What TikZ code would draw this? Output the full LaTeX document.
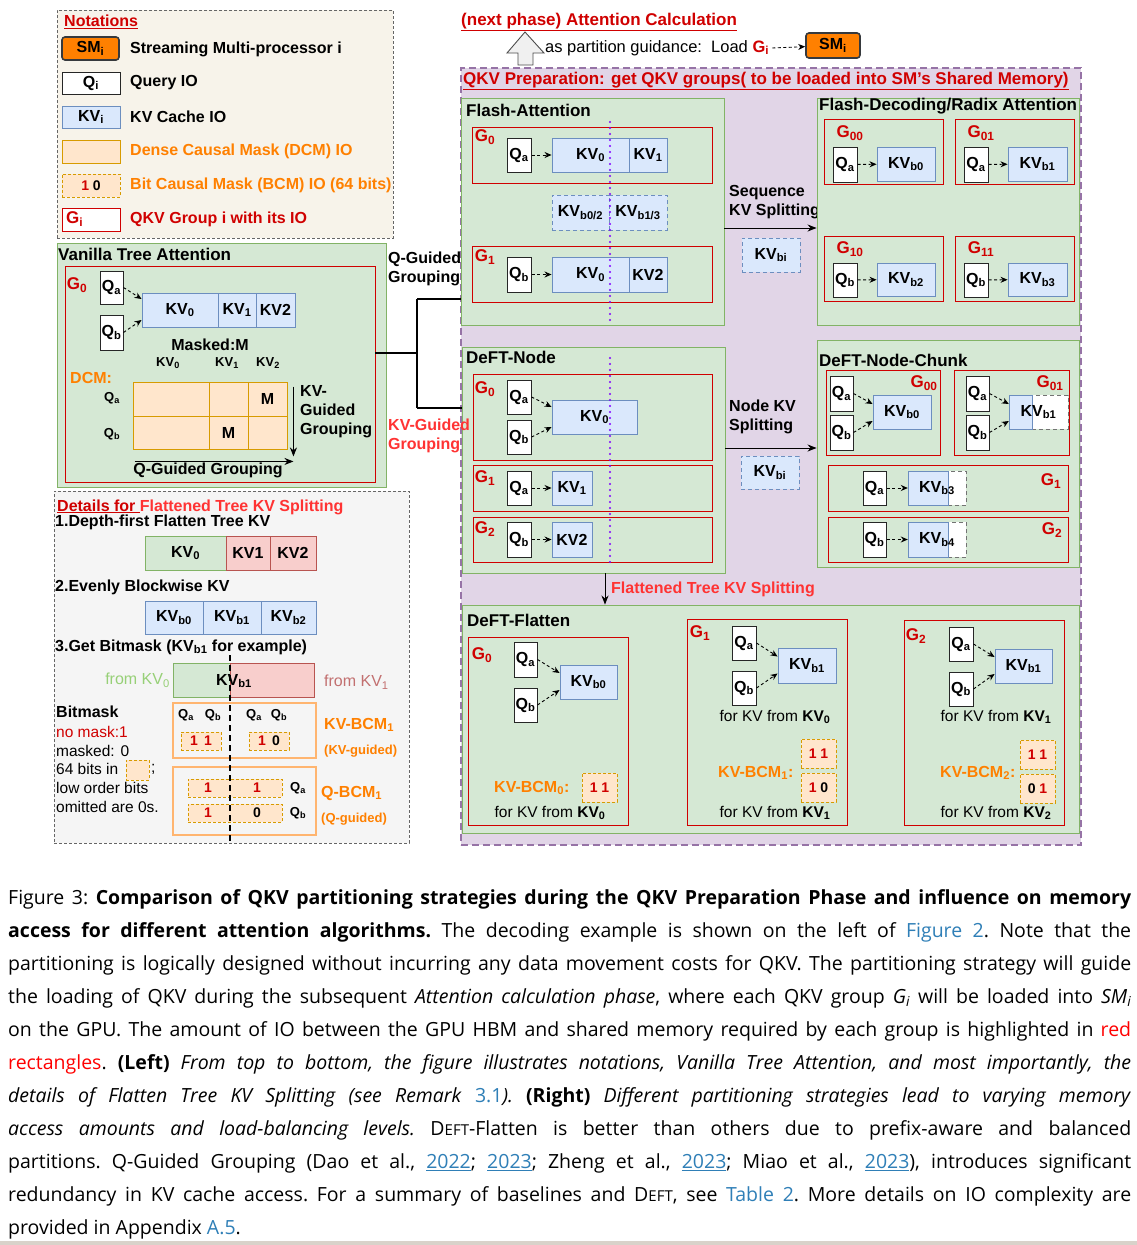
\documentclass[tikz,border=0pt]{standalone}
\usepackage{fontspec}
\setmainfont{Liberation Sans}
\newfontfamily\capfont{Open Sans}
\usepackage{xcolor}
\usepackage{tikz}
\usetikzlibrary{arrows.meta, positioning, fit}
\definecolor{GrpRed}{HTML}{D00000}
\definecolor{BrightRed}{HTML}{FF3333}
\definecolor{MaskOrange}{HTML}{FF8000}
\definecolor{SMLine}{HTML}{36393D}
\definecolor{KVFill}{HTML}{DAE8FC}
\definecolor{KVLine}{HTML}{6C8EBF}
\definecolor{PanelFill}{HTML}{D5E8D4}
\definecolor{PanelLine}{HTML}{82B366}
\definecolor{PrepFill}{HTML}{E1D5E7}
\definecolor{PrepLine}{HTML}{9673A6}
\definecolor{MaskFill}{HTML}{FFE6CC}
\definecolor{MaskLine}{HTML}{D79B00}
\definecolor{PinkFill}{HTML}{F8CECC}
\definecolor{PinkLine}{HTML}{B85450}
\definecolor{NoteFill}{HTML}{F7F3EA}
\definecolor{DetailFill}{HTML}{F5F5F5}
\definecolor{DetailLine}{HTML}{666666}
\definecolor{DotViolet}{HTML}{7F00FF}
\definecolor{BCMLine}{HTML}{FFB570}
\definecolor{FromGreen}{HTML}{97D077}
\definecolor{FromRed}{HTML}{C27070}
\definecolor{LinkBlue}{HTML}{2F7FB7}
\definecolor{ArrowGrey}{HTML}{F0F0F0}
\definecolor{BarGrey}{HTML}{D9D2CA}

\newcommand{\sbs}[1]{\textsubscript{#1}}
\newcommand{\regfont}{\mdseries\fontsize{15.5}{18}\selectfont}
\newcommand{\smallbold}{\bfseries\fontsize{13}{15}\selectfont}
\newcommand{\bitfont}{\bfseries\fontsize{14}{16}\selectfont}
\newcommand{\dft}{D{\fontsize{15}{33}\selectfont EFT}}

\tikzset{
  tx/.style={label={center:#1}},
  bittx/.style={label={[font=\bitfont]center:#1}},
  panel/.style={draw=PanelLine, fill=PanelFill, line width=0.9pt},
  grp/.style={draw=GrpRed, line width=0.9pt},
  qbox/.style={draw=black!85, fill=white, line width=1pt},
  kvbox/.style={draw=KVLine, fill=KVFill, line width=0.9pt},
  kvdash/.style={kvbox, dash pattern=on 4pt off 3pt},
  kvtail/.style={draw=black!55, fill=white, dash pattern=on 4pt off 3pt, line width=0.9pt},
  pinkbox/.style={draw=PinkLine, fill=PinkFill, line width=0.9pt},
  greenbox/.style={draw=PanelLine, fill=PanelFill, line width=0.9pt},
  dcmcell/.style={draw=MaskLine, fill=MaskFill, line width=0.9pt},
  bitbox/.style={draw=MaskLine, fill=MaskFill, dash pattern=on 3pt off 2pt, line width=0.9pt},
  smbox/.style={draw=SMLine, fill=MaskOrange, line width=1.6pt, rounded corners=3pt},
  head/.style={anchor=west},
  ptitle/.style={anchor=west, font=\bfseries\fontsize{17}{19}\selectfont},
  glbl/.style={text=GrpRed, font=\bfseries\fontsize{17}{19}\selectfont},
  qarrow/.style={-{Stealth[length=7pt, width=6pt]}, dash pattern=on 3pt off 2.5pt, line width=0.9pt},
  splitarr/.style={-{Stealth[length=9pt, width=7pt]}, line width=1pt},
  bracket/.style={line width=2.2pt},
  vdots/.style={DotViolet, line width=2.4pt, line cap=round, dash pattern=on 0pt off 6pt}
}

\begin{document}
\begin{tikzpicture}[x=1pt, y=-1pt, every node/.style={inner sep=0pt, font=\bfseries\fontsize{16}{19}\selectfont}]
\useasboundingbox (0,0) rectangle (1137,1245);
\fill[white] (0,0) rectangle (1137,1245);

% notations
\node[fit={(57,10) (393,238)}, draw=DetailLine, fill=NoteFill, dash pattern=on 3pt off 2pt, line width=0.9pt] (notes) {};
\node[head, text=GrpRed] (notes-title) at (64,22) {\underline{Notations}};
\node[smbox, fit={(62,37) (119,60)}, tx={SM\sbs{i}}] (n-sm) {};
\node[head] (n-sm-txt) at (130,49) {Streaming Multi-processor i};
\node[qbox, fit={(62,72) (120,94)}, tx={Q\sbs{i}}] (n-q) {};
\node[head] (n-q-txt) at (130,83) {Query IO};
\node[kvbox, fit={(62,106) (120,128)}, tx={KV\sbs{i}}] (n-kv) {};
\node[head] (n-kv-txt) at (130,117) {KV Cache IO};
\node[dcmcell, fit={(62,140) (120,163)}] (n-dcm) {};
\node[head, text=MaskOrange] (n-dcm-txt) at (130,151) {Dense Causal Mask (DCM) IO};
\node[bitbox, fit={(62,174) (120,197)}, bittx={\textcolor{GrpRed}{1} 0}] (n-bcm) {};
\node[head, text=MaskOrange] (n-bcm-txt) at (130,185) {Bit Causal Mask (BCM) IO (64 bits)};
\node[grp, fill=white, fit={(62,208) (120,231)}] (n-grp) {};
\node[glbl, anchor=west] (n-grp-lbl) at (66,219) {G\sbs{i}};
\node[head, text=GrpRed] (n-grp-txt) at (130,219) {QKV Group i with its IO};

% next phase header
\node[head, text=GrpRed, font=\bfseries\fontsize{17}{19}\selectfont] (next-phase) at (461,22) {\underline{(next phase) Attention Calculation}};
\draw[fill=ArrowGrey, draw=black!70, line width=0.9pt] (525,32) -- (544,53) -- (533,53) -- (533,65) -- (518,65) -- (518,53) -- (507,53) -- cycle;
\node[head, font=\mdseries\fontsize{16.5}{19}\selectfont] (guide) at (545,48) {as partition guidance:\ \ Load \textcolor{GrpRed}{\textbf{G\sbs{i}}}};
\node[smbox, fit={(806,33) (860,58)}, tx={SM\sbs{i}}] (top-sm) {};
\draw[qarrow] ([xshift=3pt]guide.east) -- (top-sm);

% QKV preparation
\node[fit={(461,68) (1081,845)}, draw=PrepLine, fill=PrepFill, dash pattern=on 7pt off 4pt, line width=1.6pt] (prep) {};
\node[head, text=GrpRed, font=\bfseries\fontsize{17}{19}\selectfont] (prep-title) at (463,81) {\underline{QKV Preparation: get QKV groups( to be loaded into SM's Shared Memory)}};

% Flash-Attention
\node[panel, fit={(461,98) (724,325)}] (fa) {};
\node[ptitle] (fa-title) at (466,110) {Flash-Attention};
\node[grp, fit={(472,127) (712,183)}] (fa-g0) {};
\node[glbl] at (485,137) {G\sbs{0}};
\node[qbox, fit={(507,138) (531,172)}, tx={Q\sbs{a}}] (fa-g0-qa) {};
\node[kvbox, fit={(552,138) (629,172)}, tx={KV\sbs{0}}] (fa-g0-kv0) {};
\node[kvbox, fit={(629,138) (667,172)}, tx={KV\sbs{1}}] (fa-g0-kv1) {};
\draw[qarrow] (fa-g0-qa) -- (fa-g0-kv0);
\node[kvdash, fit={(552,195) (609,230)}, tx={KV\sbs{b0/2}}] (fa-kvb02) {};
\node[kvdash, fit={(609,195) (667,230)}, tx={KV\sbs{b1/3}}] (fa-kvb13) {};
\node[grp, fit={(472,246) (712,302)}] (fa-g1) {};
\node[glbl] at (485,257) {G\sbs{1}};
\node[qbox, fit={(507,257) (531,292)}, tx={Q\sbs{b}}] (fa-g1-qb) {};
\node[kvbox, fit={(552,257) (629,292)}, tx={KV\sbs{0}}] (fa-g1-kv0) {};
\node[kvbox, fit={(629,257) (667,292)}, tx={KV2}] (fa-g1-kv2) {};
\draw[qarrow] (fa-g1-qb) -- (fa-g1-kv0);
\draw[vdots] (610,122) -- (610,323);

\node[head, align=left] (seq-txt) at (729,202) {Sequence\\KV Splitting};
\node[kvdash, fit={(742,238) (800,272)}, tx={KV\sbs{bi}}] (seq-kvbi) {};

% Flash-Decoding / Radix
\node[panel, fit={(817,98) (1079,325)}] (fd) {};
\node[ptitle] (fd-title) at (819,106) {Flash-Decoding/Radix Attention};
\node[grp, fit={(824,119) (943,184)}] (fd-g00) {};
\node[glbl] at (850,133) {G\sbs{00}};
\node[qbox, fit={(833,147) (857,182)}, tx={Q\sbs{a}}] (fd-g00-qa) {};
\node[kvbox, fit={(877,147) (935,181)}, tx={KV\sbs{b0}}] (fd-g00-kv) {};
\draw[qarrow] (fd-g00-qa) -- (fd-g00-kv);
\node[grp, fit={(955,119) (1074,184)}] (fd-g01) {};
\node[glbl] at (981,133) {G\sbs{01}};
\node[qbox, fit={(964,147) (988,182)}, tx={Q\sbs{a}}] (fd-g01-qa) {};
\node[kvbox, fit={(1008,147) (1067,181)}, tx={KV\sbs{b1}}] (fd-g01-kv) {};
\draw[qarrow] (fd-g01-qa) -- (fd-g01-kv);
\node[grp, fit={(824,236) (943,301)}] (fd-g10) {};
\node[glbl] at (850,249) {G\sbs{10}};
\node[qbox, fit={(833,263) (857,297)}, tx={Q\sbs{b}}] (fd-g10-qb) {};
\node[kvbox, fit={(877,263) (935,296)}, tx={KV\sbs{b2}}] (fd-g10-kv) {};
\draw[qarrow] (fd-g10-qb) -- (fd-g10-kv);
\node[grp, fit={(955,236) (1074,301)}] (fd-g11) {};
\node[glbl] at (981,249) {G\sbs{11}};
\node[qbox, fit={(964,263) (988,297)}, tx={Q\sbs{b}}] (fd-g11-qb) {};
\node[kvbox, fit={(1008,263) (1067,296)}, tx={KV\sbs{b3}}] (fd-g11-kv) {};
\draw[qarrow] (fd-g11-qb) -- (fd-g11-kv);
\draw[splitarr] ([yshift=-16.5pt]fa.east) -- ([yshift=-16.5pt]fa.east -| fd.west);

% Vanilla Tree Attention
\node[panel, fit={(57,243) (386,487)}] (va) {};
\node[ptitle] (va-title) at (58,254) {Vanilla Tree Attention};
\node[grp, fit={(65,266) (375,482)}] (va-g0) {};
\node[glbl] at (77,285) {G\sbs{0}};
\node[qbox, fit={(100,271) (123,304)}, tx={Q\sbs{a}}] (va-qa) {};
\node[qbox, fit={(100,315) (123,350)}, tx={Q\sbs{b}}] (va-qb) {};
\node[kvbox, fit={(142,293) (218,327)}, tx={KV\sbs{0}}] (va-kv0) {};
\node[kvbox, fit={(218,293) (256,327)}, tx={KV\sbs{1}}] (va-kv1) {};
\node[kvbox, fit={(256,293) (295,327)}, tx={KV2}] (va-kv2) {};
\draw[qarrow] (va-qa.east) -- ([yshift=11pt]va-kv0.west);
\draw[qarrow] (va-qb.east) -- ([yshift=-10pt]va-kv0.west);
\node (va-masked) at (210,345) {Masked:M};
\node[font=\smallbold] (va-h0) at (168,363) {KV\sbs{0}};
\node[font=\smallbold] (va-h1) at (227,363) {KV\sbs{1}};
\node[font=\smallbold] (va-h2) at (268,363) {KV\sbs{2}};
\node[head, text=MaskOrange] (va-dcm) at (70,378) {DCM:};
\node[font=\smallbold] (va-ra) at (112,398) {Q\sbs{a}};
\node[font=\smallbold] (va-rb) at (112,434) {Q\sbs{b}};
\node[dcmcell, fit={(133,382) (209,416)}] (dcm-a0) {};
\node[dcmcell, fit={(209,382) (248,416)}] (dcm-a1) {};
\node[dcmcell, fit={(248,382) (287,416)}, tx=M] (dcm-a2) {};
\node[dcmcell, fit={(133,416) (209,449)}] (dcm-b0) {};
\node[dcmcell, fit={(209,416) (248,449)}, tx=M] (dcm-b1) {};
\node[dcmcell, fit={(248,416) (287,449)}] (dcm-b2) {};
\draw[splitarr] ([shift={(6pt,-5pt)}]dcm-a2.north east) -- ([shift={(6pt,-7pt)}]dcm-b2.south east);
\node[head, align=left] (va-kvg) at (300,412) {KV-\\Guided\\Grouping};
\draw[splitarr] ([shift={(2pt,-12pt)}]dcm-b0.south west) -- ([shift={(6pt,-12pt)}]dcm-b2.south east);
\node (va-qg) at (208,470) {Q-Guided Grouping};

% grouping bracket
\coordinate (br-top) at (417,299);
\coordinate (br-bot) at (417,408);
\draw[bracket] ([yshift=21pt]va-g0.east) -- ([yshift=21pt]va-g0.east -| br-top);
\draw[bracket] (br-top) -- (br-bot);
\draw[bracket] (br-top) -- (br-top -| fa.west);

% DeFT-Node
\node[panel, fit={(462,347) (725,573)}] (dn) {};
\draw[bracket] (br-bot) -- (br-bot -| dn.west);
\node[head, align=left] (qg-txt) at (388,269) {Q-Guided\\Grouping};
\node[head, align=left, text=BrightRed] (kvg-txt) at (388,436) {KV-Guided\\Grouping};
\node[ptitle] (dn-title) at (466,357) {DeFT-Node};
\node[grp, fit={(473,374) (712,460)}] (dn-g0) {};
\node[glbl] at (485,389) {G\sbs{0}};
\node[qbox, fit={(507,380) (531,414)}, tx={Q\sbs{a}}] (dn-g0-qa) {};
\node[qbox, fit={(507,420) (531,454)}, tx={Q\sbs{b}}] (dn-g0-qb) {};
\node[kvbox, fit={(552,400) (637,434)}, tx={KV\sbs{0}}] (dn-g0-kv0) {};
\draw[qarrow] (dn-g0-qa.east) -- ([yshift=10pt]dn-g0-kv0.west);
\draw[qarrow] (dn-g0-qb.east) -- ([yshift=-10pt]dn-g0-kv0.west);
\node[grp, fit={(473,465) (712,511)}] (dn-g1) {};
\node[glbl] at (485,478) {G\sbs{1}};
\node[qbox, fit={(507,471) (531,505)}, tx={Q\sbs{a}}] (dn-g1-qa) {};
\node[kvbox, fit={(552,471) (592,505)}, tx={KV\sbs{1}}] (dn-g1-kv1) {};
\draw[qarrow] (dn-g1-qa) -- (dn-g1-kv1);
\node[grp, fit={(473,517) (712,562)}] (dn-g2) {};
\node[glbl] at (485,529) {G\sbs{2}};
\node[qbox, fit={(507,522) (531,557)}, tx={Q\sbs{b}}] (dn-g2-qb) {};
\node[kvbox, fit={(552,522) (592,557)}, tx={KV2}] (dn-g2-kv2) {};
\draw[qarrow] (dn-g2-qb) -- (dn-g2-kv2);
\draw[vdots] (610,358) -- (610,563);

\node[head, align=left] (node-txt) at (729,417) {Node KV\\Splitting};
\node[kvdash, fit={(741,456) (799,489)}, tx={KV\sbs{bi}}] (node-kvbi) {};
\node[head, text=BrightRed] (flat-txt) at (611,589) {Flattened Tree KV Splitting};

% DeFT-Node-Chunk
\node[panel, fit={(817,340) (1079,567)}] (dnc) {};
\draw[splitarr] ([yshift=12pt]dn.east) -- ([yshift=12pt]dn.east -| dnc.west);
\node[ptitle] (dnc-title) at (819,360) {DeFT-Node-Chunk};
\node[grp, fit={(826,370) (940,455)}] (dnc-g00) {};
\node[glbl] at (924,383) {G\sbs{00}};
\node[qbox, fit={(830,376) (853,411)}, tx={Q\sbs{a}}] (dnc-g00-qa) {};
\node[qbox, fit={(830,415) (853,450)}, tx={Q\sbs{b}}] (dnc-g00-qb) {};
\node[kvbox, fit={(873,395) (931,429)}, tx={KV\sbs{b0}}] (dnc-g00-kv) {};
\draw[qarrow] (dnc-g00-qa.east) -- ([yshift=8pt]dnc-g00-kv.west);
\draw[qarrow] (dnc-g00-qb.east) -- ([yshift=-9pt]dnc-g00-kv.west);
\node[grp, fit={(954,370) (1069,455)}] (dnc-g01) {};
\node[glbl] at (1050,383) {G\sbs{01}};
\node[qbox, fit={(966,376) (989,411)}, tx={Q\sbs{a}}] (dnc-g01-qa) {};
\node[qbox, fit={(966,415) (989,450)}, tx={Q\sbs{b}}] (dnc-g01-qb) {};
\node[kvtail, fit={(1032,395) (1068,429)}] (dnc-g01-tail) {};
\node[kvbox, fit={(1009,395) (1032,429)}] (dnc-g01-head) {};
\node[fit={(1009,395) (1068,429)}, tx={KV\sbs{b1}}] (dnc-g01-kv) {};
\draw[qarrow] (dnc-g01-qa.east) -- ([yshift=8pt]dnc-g01-kv.west);
\draw[qarrow] (dnc-g01-qb.east) -- ([yshift=-9pt]dnc-g01-kv.west);
\node[grp, fit={(828,465) (1068,511)}] (dnc-g1) {};
\node[glbl] at (1051,481) {G\sbs{1}};
\node[qbox, fit={(863,471) (886,505)}, tx={Q\sbs{a}}] (dnc-g1-qa) {};
\node[kvtail, fit={(948,471) (966,505)}] (dnc-g1-tail) {};
\node[kvbox, fit={(908,471) (948,505)}] (dnc-g1-head) {};
\node[fit={(908,471) (966,505)}, tx={KV\sbs{b3}}] (dnc-g1-kv) {};
\draw[qarrow] (dnc-g1-qa) -- (dnc-g1-kv);
\node[grp, fit={(828,517) (1068,562)}] (dnc-g2) {};
\node[glbl] at (1052,530) {G\sbs{2}};
\node[qbox, fit={(863,522) (886,557)}, tx={Q\sbs{b}}] (dnc-g2-qb) {};
\node[kvtail, fit={(948,522) (966,557)}] (dnc-g2-tail) {};
\node[kvbox, fit={(908,522) (948,557)}] (dnc-g2-head) {};
\node[fit={(908,522) (966,557)}, tx={KV\sbs{b4}}] (dnc-g2-kv) {};
\draw[qarrow] (dnc-g2-qb) -- (dnc-g2-kv);

% DeFT-Flatten
\node[panel, fit={(462,605) (1079,833)}] (df) {};
\draw[splitarr] ([xshift=11.5pt]dn.south) -- ([xshift=11.5pt]dn.south |- df.north);
\node[ptitle] (df-title) at (467,620) {DeFT-Flatten};
\node[grp, fit={(468,637) (628,825)}] (df-g0) {};
\node[glbl] at (482,655) {G\sbs{0}};
\node[qbox, fit={(514,642) (537,677)}, tx={Q\sbs{a}}] (df-g0-qa) {};
\node[qbox, fit={(514,688) (537,722)}, tx={Q\sbs{b}}] (df-g0-qb) {};
\node[kvbox, fit={(560,665) (617,699)}, tx={KV\sbs{b0}}] (df-g0-kv) {};
\draw[qarrow] (df-g0-qa.east) -- ([yshift=9pt]df-g0-kv.west);
\draw[qarrow] (df-g0-qb.east) -- ([yshift=-8pt]df-g0-kv.west);
\node[head, text=MaskOrange] (df-g0-bcm-txt) at (494,788) {KV-BCM\sbs{0}:};
\node[bitbox, fit={(582,773) (617,802)}, bittx={\textcolor{GrpRed}{1 1}}] (df-g0-bcm) {};
\node[font=\regfont] (df-g0-from) at (550,813) {for KV from \textbf{KV\sbs{0}}};

\node[grp, fit={(687,619) (847,825)}] (df-g1) {};
\node[glbl] at (700,633) {G\sbs{1}};
\node[qbox, fit={(732,626) (756,660)}, tx={Q\sbs{a}}] (df-g1-qa) {};
\node[qbox, fit={(732,671) (756,705)}, tx={Q\sbs{b}}] (df-g1-qb) {};
\node[kvbox, fit={(778,648) (836,683)}, tx={KV\sbs{b1}}] (df-g1-kv) {};
\draw[qarrow] (df-g1-qa.east) -- ([yshift=9pt]df-g1-kv.west);
\draw[qarrow] (df-g1-qb.east) -- ([yshift=-8pt]df-g1-kv.west);
\node[font=\regfont] (df-g1-from0) at (775,717) {for KV from \textbf{KV\sbs{0}}};
\node[bitbox, fit={(801,739) (836,768)}, bittx={\textcolor{GrpRed}{1 1}}] (df-g1-bcm0) {};
\node[bitbox, fit={(801,773) (836,802)}, bittx={\textcolor{GrpRed}{1} 0}] (df-g1-bcm1) {};
\node[head, text=MaskOrange] (df-g1-bcm-txt) at (718,773) {KV-BCM\sbs{1}:};
\node[font=\regfont] (df-g1-from1) at (775,813) {for KV from \textbf{KV\sbs{1}}};

\node[grp, fit={(904,620) (1064,825)}] (df-g2) {};
\node[glbl] at (916,636) {G\sbs{2}};
\node[qbox, fit={(949,627) (973,661)}, tx={Q\sbs{a}}] (df-g2-qa) {};
\node[qbox, fit={(949,672) (973,706)}, tx={Q\sbs{b}}] (df-g2-qb) {};
\node[kvbox, fit={(995,649) (1052,683)}, tx={KV\sbs{b1}}] (df-g2-kv) {};
\draw[qarrow] (df-g2-qa.east) -- ([yshift=9pt]df-g2-kv.west);
\draw[qarrow] (df-g2-qb.east) -- ([yshift=-8pt]df-g2-kv.west);
\node[font=\regfont] (df-g2-from1) at (996,717) {for KV from \textbf{KV\sbs{1}}};
\node[bitbox, fit={(1020,740) (1055,769)}, bittx={\textcolor{GrpRed}{1 1}}] (df-g2-bcm0) {};
\node[bitbox, fit={(1020,774) (1055,803)}, bittx={0 \textcolor{GrpRed}{1}}] (df-g2-bcm1) {};
\node[head, text=MaskOrange] (df-g2-bcm-txt) at (940,773) {KV-BCM\sbs{2}:};
\node[font=\regfont] (df-g2-from2) at (996,813) {for KV from \textbf{KV\sbs{2}}};

% details for flattened tree KV splitting
\node[fit={(54,491) (409,843)}, draw=DetailLine, fill=DetailFill, dash pattern=on 3pt off 2pt, line width=0.9pt] (det) {};
\node[head] (det-title) at (57,507) {\textcolor{GrpRed}{\underline{Details for }}\textcolor{BrightRed}{Flattened Tree KV Splitting}};
\node[head] (det-s1) at (55,522) {1.Depth-first Flatten Tree KV};
\node[greenbox, fit={(145,536) (226,570)}, tx={KV\sbs{0}}] (det-kv0) {};
\node[pinkbox, fit={(226,536) (270,570)}, tx={KV1}] (det-kv1) {};
\node[pinkbox, fit={(270,536) (316,570)}, tx={KV2}] (det-kv2) {};
\node[head] (det-s2) at (55,587) {2.Evenly Blockwise KV};
\node[kvbox, fit={(145,601) (203,634)}, tx={KV\sbs{b0}}] (det-kvb0) {};
\node[kvbox, fit={(203,601) (261,634)}, tx={KV\sbs{b1}}] (det-kvb1) {};
\node[kvbox, fit={(261,601) (316,634)}, tx={KV\sbs{b2}}] (det-kvb2) {};
\node[head] (det-s3) at (55,647) {3.Get Bitmask (KV\sbs{b1} for example)};
\node[greenbox, fit={(173,663) (230,697)}] (det-from0) {};
\node[pinkbox, fit={(230,663) (314,697)}] (det-from1) {};
\node (det-kvb1-txt) at (234,681) {KV\sbs{b1}};
\node[anchor=east, font=\mdseries\fontsize{16}{19}\selectfont, text=FromGreen] (det-from0-txt) at (170,680) {from KV\sbs{0}};
\node[anchor=west, font=\mdseries\fontsize{16}{19}\selectfont, text=FromRed] (det-from1-txt) at (324,682) {from KV\sbs{1}};

\node[head] (det-bitmask) at (56,712) {Bitmask};
\node[head, font=\regfont, text=GrpRed] (det-nomask) at (56,732) {no mask:1};
\node[head, font=\regfont] (det-masked) at (56,751) {masked: 0};
\node[head, font=\regfont] (det-64) at (56,769) {64 bits in};
\node[bitbox, fit={(126,760) (149,780)}] (det-64box) {};
\node[head, font=\regfont] (det-semi) at (151,769) {;};
\node[head, font=\regfont] (det-low) at (56,788) {low order bits};
\node[head, font=\regfont] (det-omit) at (56,807) {omitted are 0s.};

\node[fit={(173,703) (316,758)}, draw=BCMLine, line width=1.2pt] (kvbcm) {};
\node[font=\smallbold] (kvbcm-qa0) at (186,715) {Q\sbs{a}};
\node[font=\smallbold] (kvbcm-qb0) at (213,715) {Q\sbs{b}};
\node[font=\smallbold] (kvbcm-qa1) at (254,715) {Q\sbs{a}};
\node[font=\smallbold] (kvbcm-qb1) at (279,715) {Q\sbs{b}};
\node[bitbox, fit={(181,732) (221,750)}, bittx={\textcolor{GrpRed}{1\ \,1}}] (kvbcm-bits0) {};
\node[bitbox, fit={(249,732) (289,750)}, bittx={\textcolor{GrpRed}{1}\ \,0}] (kvbcm-bits1) {};
\node[head, text=MaskOrange] (kvbcm-txt) at (324,725) {KV-BCM\sbs{1}};
\node[head, text=MaskOrange, font=\smallbold] (kvbcm-sub) at (324,751) {(KV-guided)};

\node[fit={(173,767) (316,835)}, draw=BCMLine, line width=1.2pt] (qbcm) {};
\node[bitbox, fit={(188,779) (282,797)}] (qbcm-bar-a) {};
\node[bitbox, fit={(188,804) (282,822)}] (qbcm-bar-b) {};
\node[text=GrpRed, font=\bitfont] (qbcm-a0) at (208,788) {1};
\node[text=GrpRed, font=\bitfont] (qbcm-a1) at (257,788) {1};
\node[text=GrpRed, font=\bitfont] (qbcm-b0) at (208,813) {1};
\node[font=\bitfont] (qbcm-b1) at (257,813) {0};
\node[font=\smallbold] (qbcm-qa) at (298,788) {Q\sbs{a}};
\node[font=\smallbold] (qbcm-qb) at (298,813) {Q\sbs{b}};
\node[head, text=MaskOrange] (qbcm-txt) at (321,793) {Q-BCM\sbs{1}};
\node[head, text=MaskOrange, font=\smallbold] (qbcm-sub) at (321,819) {(Q-guided)};
\draw[line width=2pt, dash pattern=on 6pt off 4pt] (230,655) -- (230,841);

% caption
\node[anchor=north west, align=left, font=\capfont\frenchspacing\fontsize{19.5}{33}\selectfont] (caption) at (8,889) {%
\makebox[1123pt][s]{Figure 3: \textbf{Comparison of QKV partitioning strategies during the QKV Preparation Phase and influence on memory}}\\
\makebox[1123pt][s]{\textbf{access for different attention algorithms.} The decoding example is shown on the left of \textcolor{LinkBlue}{Figure 2}. Note that the}\\
\makebox[1123pt][s]{partitioning is logically designed without incurring any data movement costs for QKV. The partitioning strategy will guide}\\
\makebox[1123pt][s]{the loading of QKV during the subsequent \textit{Attention calculation phase}, where each QKV group \textit{G\textsubscript{i}} will be loaded into \textit{SM\textsubscript{i}}}\\
\makebox[1123pt][s]{on the GPU. The amount of IO between the GPU HBM and shared memory required by each group is highlighted in \textcolor{red}{red}}\\
\makebox[1123pt][s]{\textcolor{red}{rectangles}. \textbf{(Left)} \textit{From top to bottom, the figure illustrates notations, Vanilla Tree Attention, and most importantly, the}}\\
\makebox[1123pt][s]{\textit{details of Flatten Tree KV Splitting (see Remark} \textcolor{LinkBlue}{3.1}\textit{).} \textbf{(Right)} \textit{Different partitioning strategies lead to varying memory}}\\
\makebox[1123pt][s]{\textit{access amounts and load-balancing levels.} \dft-Flatten is better than others due to prefix-aware and balanced}\\
\makebox[1123pt][s]{partitions. Q-Guided Grouping (Dao et al., \textcolor{LinkBlue}{\underline{2022}}; \textcolor{LinkBlue}{\underline{2023}}; Zheng et al., \textcolor{LinkBlue}{\underline{2023}}; Miao et al., \textcolor{LinkBlue}{\underline{2023}}), introduces significant}\\
\makebox[1123pt][s]{redundancy in KV cache access. For a summary of baselines and \dft, see \textcolor{LinkBlue}{Table 2}. More details on IO complexity are}\\
provided in Appendix \textcolor{LinkBlue}{A.5}.};
\fill[BarGrey] (0,1241) rectangle (1137,1245);
\end{tikzpicture}
\end{document}
